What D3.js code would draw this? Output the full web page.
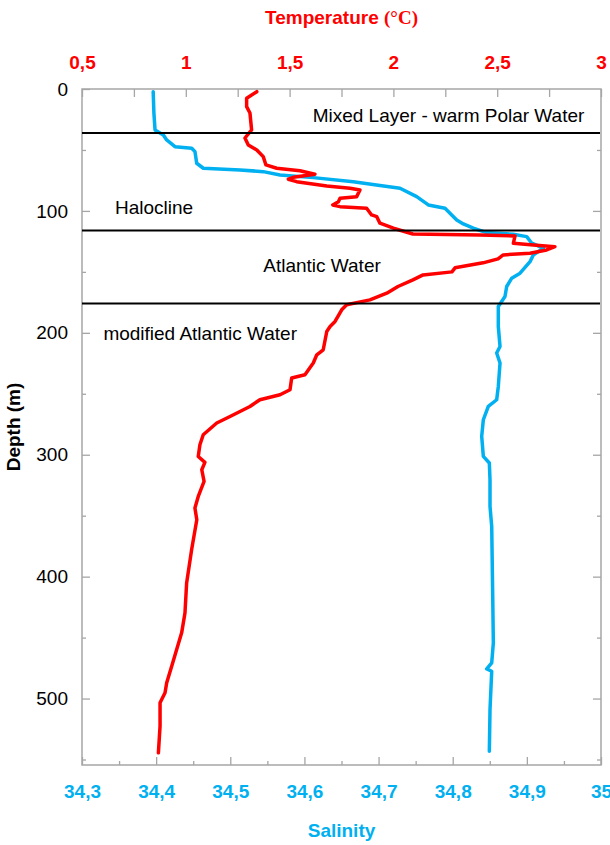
<!DOCTYPE html>
<html>
<head>
<meta charset="utf-8">
<script src="https://cdn.jsdelivr.net/npm/d3@7"></script>
<style>
  body { margin: 0; background: #fff; }
  text { font-family: "Liberation Sans", Arial, sans-serif; }
</style>
</head>
<body>
<div id="chart"></div>
<script>
// profile data, depth (m) top to bottom
var tempDepth = [2.2, 7.6, 14.5, 19.7, 33.6, 40.2, 45.9, 50.0, 55.5, 62.3, 65.0, 67.0, 69.9, 72.4, 74.0, 76.0,
  79.5, 81.4, 82.8, 88.3, 89.6, 92.4, 95.1, 96.5, 97.8, 103.3, 104.7, 110.1, 114.2, 118.9, 119.7, 120.5,
  126.5, 127.9, 129.3, 132.0, 134.7, 136.1, 139.3, 142.6, 146.7, 150.0, 152.5, 156.6, 162.0, 167.5, 173.0,
  177.0, 181.1, 190.7, 194.8, 198.9, 213.9, 218.0, 224.8, 234.4, 237.1, 246.7, 250.8, 254.9, 260.4, 268.6,
  274.0, 283.6, 291.8, 301.4, 306.3, 312.3, 321.9, 334.2, 343.7, 353.3, 377.9, 405.2, 429.8, 446.1, 459.8,
  473.5, 487.1, 495.3, 503.5, 522.7, 544.5];
var tempValues = [1.342, 1.293, 1.293, 1.309, 1.317, 1.285, 1.301, 1.342, 1.373, 1.386, 1.438, 1.550, 1.622, 1.518, 1.494, 1.534,
  1.679, 1.791, 1.839, 1.823, 1.743, 1.735, 1.708, 1.743, 1.871, 1.895, 1.920, 1.935, 2.000, 2.094, 2.417, 2.586,
  2.578, 2.674, 2.778, 2.738, 2.658, 2.529, 2.504, 2.432, 2.297, 2.282, 2.143, 2.094, 2.022, 1.968, 1.887,
  1.775, 1.751, 1.719, 1.695, 1.679, 1.662, 1.631, 1.614, 1.574, 1.510, 1.502, 1.454, 1.357, 1.309, 1.213,
  1.149, 1.084, 1.068, 1.060, 1.092, 1.077, 1.088, 1.060, 1.044, 1.053, 1.028, 1.004, 0.996, 0.980, 0.956,
  0.932, 0.908, 0.900, 0.876, 0.876, 0.868];

var salDepth = [2.2, 19.9, 33.6, 37.7, 41.8, 47.3, 48.6, 51.4, 60.9, 65.0, 66.4, 67.8, 70.5, 72.7, 76.0, 79.1,
  81.4, 88.3, 95.1, 97.8, 107.4, 110.7, 114.2, 117.8, 119.1, 121.1, 126.5, 130.6, 136.1, 141.6, 151.1, 155.2,
  162.0, 170.2, 178.4, 194.8, 211.2, 216.6, 224.8, 244.0, 254.9, 260.4, 271.3, 285.0, 301.4, 306.8, 320.5,
  342.4, 358.8, 413.4, 454.3, 470.7, 475.7, 477.6, 509.0, 543.2];
var salValues = [34.396, 34.397, 34.3985, 34.4097, 34.4142, 34.4254, 34.448, 34.4524, 34.4547, 34.4636, 34.5131, 34.5445, 34.5671, 34.612, 34.6659, 34.7019,
  34.7289, 34.7514, 34.7671, 34.7896, 34.8054, 34.8143, 34.8278, 34.8459, 34.8817, 34.8998, 34.9066, 34.9222, 34.9087, 34.9043, 34.8908, 34.8796,
  34.8728, 34.8705, 34.8615, 34.8615, 34.8638, 34.8593, 34.8638, 34.8615, 34.8593, 34.848, 34.8413, 34.8391, 34.8413, 34.8494, 34.8503,
  34.8503, 34.8526, 34.8539, 34.8548, 34.8526, 34.8459, 34.8526, 34.8503, 34.8494];

// axes
var tempTicks = [0.5, 0.75, 1, 1.25, 1.5, 1.75, 2, 2.25, 2.5, 2.75, 3];
var tempLabels = [0.5, 1, 1.5, 2, 2.5, 3];
var salMajor = [34.3, 34.4, 34.5, 34.6, 34.7, 34.8, 34.9, 35];
var salMinor = [34.35, 34.45, 34.55, 34.65, 34.75, 34.85, 34.95];
var depthMajor = [0, 100, 200, 300, 400, 500];
var depthMinor = [50, 150, 250, 350, 450, 550];

// water masses
var layerBounds = [36, 116, 176];
var layerNames = ["Mixed Layer - warm Polar Water", "Halocline", "Atlantic Water", "modified Atlantic Water"];
var layerNameTemp = [1.611, 0.659, 1.373, 0.603];
var layerNameDepth = [26.8, 102.7, 149.8, 205.7];

var W = 610, H = 845;
var pLeft = 82, pRight = 601, pTop = 89, pBottom = 765;
var red = "#ff0000", blue = "#00b0f0", frameCol = "#a6a6a6";

var svg = d3.select("#chart").append("svg")
    .attr("width", W)
    .attr("height", H);

var xT = d3.scaleLinear().domain([0.5, 3]).range([pLeft, pRight]);
var xS = d3.scaleLinear().domain([34.3, 35]).range([pLeft, pRight]);
var y = d3.scaleLinear().domain([0, 554.5]).range([pTop, pBottom]);

var comma = function(d) { return String(+d.toFixed(2)).replace(".", ","); };

// frame
svg.append("rect")
    .attr("x", pLeft).attr("y", pTop)
    .attr("width", pRight - pLeft).attr("height", pBottom - pTop)
    .attr("fill", "none").attr("stroke", frameCol).attr("stroke-width", 1.5);

function styleAxis(g, col, weight, size) {
  g.select(".domain").remove();
  g.selectAll(".tick line").attr("stroke", frameCol).attr("stroke-width", 1.3);
  g.selectAll(".tick text")
      .attr("fill", col)
      .style("font-size", size + "px")
      .style("font-weight", weight)
      .style("font-family", "'Liberation Sans', Arial, sans-serif");
}

// top axis: temperature
svg.append("g")
    .attr("transform", "translate(0," + pTop + ")")
    .call(d3.axisTop(xT).tickValues(tempTicks).tickSize(-8).tickFormat(function(d) {
      return tempLabels.indexOf(d) >= 0 ? comma(d) : "";
    }).tickPadding(20.5))
    .call(styleAxis, red, "bold", 19);

// bottom axis: salinity
svg.append("g")
    .attr("transform", "translate(0," + pBottom + ")")
    .call(d3.axisBottom(xS).tickValues(salMinor).tickSize(-4).tickFormat(""))
    .call(styleAxis, blue, "bold", 19);
svg.append("g")
    .attr("transform", "translate(0," + pBottom + ")")
    .call(d3.axisBottom(xS).tickValues(salMajor).tickSize(-8).tickFormat(comma).tickPadding(20))
    .call(styleAxis, blue, "bold", 19);

// depth axes, left and right
svg.append("g")
    .attr("transform", "translate(" + pLeft + ",0)")
    .call(d3.axisLeft(y).tickValues(depthMinor).tickSize(-4).tickFormat(""))
    .call(styleAxis, "#000", "normal", 19);
svg.append("g")
    .attr("transform", "translate(" + pLeft + ",0)")
    .call(d3.axisLeft(y).tickValues(depthMajor).tickSize(-8).tickPadding(14))
    .call(styleAxis, "#000", "normal", 19);
svg.append("g")
    .attr("transform", "translate(" + pRight + ",0)")
    .call(d3.axisRight(y).tickValues(depthMinor).tickSize(-4).tickFormat(""))
    .call(styleAxis, "#000", "normal", 19);
svg.append("g")
    .attr("transform", "translate(" + pRight + ",0)")
    .call(d3.axisRight(y).tickValues(depthMajor.slice(1)).tickSize(-8).tickFormat(""))
    .call(styleAxis, "#000", "normal", 19);

// profiles
var tempLine = d3.line()
    .x(function(d, i) { return xT(tempValues[i]); })
    .y(function(d) { return y(d); });
var salLine = d3.line()
    .x(function(d, i) { return xS(salValues[i]); })
    .y(function(d) { return y(d); });

svg.append("path")
    .attr("d", salLine(salDepth))
    .attr("fill", "none").attr("stroke", blue).attr("stroke-width", 3.5)
    .attr("stroke-linejoin", "round").attr("stroke-linecap", "round");
svg.append("path")
    .attr("d", tempLine(tempDepth))
    .attr("fill", "none").attr("stroke", red).attr("stroke-width", 3.5)
    .attr("stroke-linejoin", "round").attr("stroke-linecap", "round");

// layer boundaries
svg.append("g").selectAll("line")
    .data(layerBounds)
    .enter().append("line")
      .attr("x1", pLeft).attr("x2", pRight - 1)
      .attr("y1", function(d) { return y(d); })
      .attr("y2", function(d) { return y(d); })
      .attr("stroke", "#000").attr("stroke-width", 2);

svg.append("g").selectAll("text")
    .data(layerNames)
    .enter().append("text")
      .attr("x", function(d, i) { return xT(layerNameTemp[i]); })
      .attr("y", function(d, i) { return y(layerNameDepth[i]); })
      .style("font-size", "19px")
      .attr("fill", "#000")
      .text(function(d) { return d; });

// axis titles
var tTitle = svg.append("text")
    .attr("x", (pLeft + pRight) / 2).attr("y", 24)
    .attr("text-anchor", "middle")
    .attr("fill", red)
    .style("font-size", "19px").style("font-weight", "bold");
tTitle.append("tspan").text("Temperature ");
tTitle.append("tspan").style("font-family", "'Liberation Serif', 'Times New Roman', serif").text("(°C)");

svg.append("text")
    .attr("x", (pLeft + pRight) / 2).attr("y", 837)
    .attr("text-anchor", "middle")
    .attr("fill", blue)
    .style("font-size", "19px").style("font-weight", "bold")
    .text("Salinity");

svg.append("text")
    .attr("transform", "translate(20," + ((pTop + pBottom) / 2) + ") rotate(-90)")
    .attr("text-anchor", "middle")
    .attr("fill", "#000")
    .style("font-size", "19px").style("font-weight", "bold")
    .text("Depth (m)");
</script>
</body>
</html>
